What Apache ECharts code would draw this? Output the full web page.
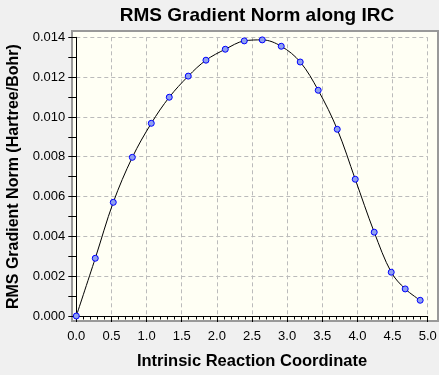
<!DOCTYPE html>
<html>
<head>
<meta charset="utf-8">
<script src="https://cdn.jsdelivr.net/npm/echarts@6/dist/echarts.min.js"></script>
<style>
html,body{margin:0;padding:0;background:#f0f0f0;}
#c{width:439px;height:375px;}
</style>
</head>
<body>
<div id="c"></div>
<script>
const titleText = 'RMS Gradient Norm along IRC';
const xName = 'Intrinsic Reaction Coordinate';
const yName = 'RMS Gradient Norm (Hartree/Bohr)';
const ircCoord = [0.000, 0.270, 0.526, 0.797, 1.067, 1.323, 1.593, 1.845, 2.120, 2.390, 2.646, 2.916, 3.186, 3.442, 3.713, 3.969, 4.239, 4.481, 4.680, 4.893];
const rmsGrad  = [0.00000, 0.00290, 0.00571, 0.00797, 0.00968, 0.01099, 0.01205, 0.01285, 0.01340, 0.01382, 0.01387, 0.01355, 0.01276, 0.01134, 0.00938, 0.00687, 0.00421, 0.00220, 0.00136, 0.00079];
const xTickLabels = ['0.0','0.5','1.0','1.5','2.0','2.5','3.0','3.5','4.0','4.5','5.0'];
const yTickLabels = ['0.000','0.002','0.004','0.006','0.008','0.010','0.012','0.014'];

const font = 'Liberation Sans, Arial, sans-serif';
const chart = echarts.init(document.getElementById('c'), null, {renderer:'canvas'});
chart.setOption({
  backgroundColor: '#f0f0f0',
  animation: false,
  title: {
    text: titleText, left: 252, top: 1, textAlign: 'center',
    textStyle: {fontFamily: font, fontSize: 19, fontWeight: 'bold', color: '#000'}
  },
  grid: [
    {left: 72, top: 31, right: 1, bottom: 54, show: true, backgroundColor: '#fffff4', borderColor: '#999', borderWidth: 2, outerBoundsMode: 'none', containLabel: false},
    {left: 76.3, top: 37.3, right: 11.3, bottom: 59, outerBoundsMode: 'none', containLabel: false}
  ],
  xAxis: [
    {gridIndex: 0, type: 'value', show: false, min: 0, max: 1},
    {gridIndex: 1, type: 'value', min: 0, max: 5, interval: 0.5, offset: 8,
     name: xName, nameLocation: 'middle', nameGap: 29,
     nameTextStyle: {fontFamily: font, fontSize: 16.5, fontWeight: 'bold', color: '#000'},
     axisLine: {show: true, lineStyle: {color: '#000', width: 1}},
     axisTick: {show: true, length: 6, lineStyle: {color: '#000'}},
     minorTick: {show: true, splitNumber: 5, length: 3.5, lineStyle: {color: '#000'}},
     axisLabel: {fontFamily: font, fontSize: 13, color: '#000', margin: 6,
       formatter: (v) => { const i = Math.round(v / 0.5); return xTickLabels[i] ?? ''; }},
     splitLine: {show: true, lineStyle: {color: '#bbb', type: [4, 3], width: 1}}
    }
  ],
  yAxis: [
    {gridIndex: 0, type: 'value', show: false, min: 0, max: 1},
    {gridIndex: 1, type: 'value', min: 0, max: 0.014, interval: 0.002, offset: 9,
     name: yName, nameLocation: 'middle', nameGap: 46, nameRotate: 90,
     nameTextStyle: {fontFamily: font, fontSize: 16, fontWeight: 'bold', color: '#000'},
     axisLine: {show: true, lineStyle: {color: '#000', width: 1}},
     axisTick: {show: true, length: 8, lineStyle: {color: '#000'}},
     minorTick: {show: true, splitNumber: 2, length: 8, lineStyle: {color: '#000'}},
     axisLabel: {fontFamily: font, fontSize: 13, color: '#000', margin: 2,
       formatter: (v) => { const i = Math.round(v / 0.002); return yTickLabels[i] ?? ''; }},
     splitLine: {show: true, lineStyle: {color: '#bbb', type: [4, 3], width: 1}}
    }
  ],
  series: [{
    type: 'line', xAxisIndex: 1, yAxisIndex: 1,
    data: ircCoord.map((x, i) => [x, rmsGrad[i]]),
    smooth: 0.35,
    lineStyle: {color: '#000', width: 1},
    symbol: 'circle', symbolSize: 6,
    itemStyle: {color: '#8fa0f0', borderColor: '#0000ff', borderWidth: 1},
    clip: false
  }]
});
</script>
</body>
</html>
